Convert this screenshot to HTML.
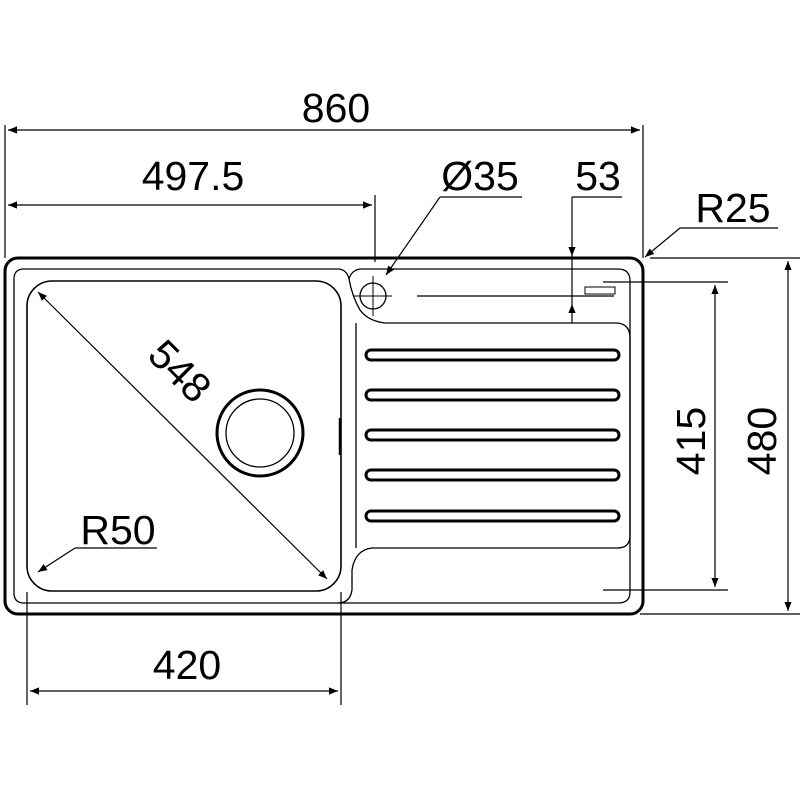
<!DOCTYPE html>
<html><head><style>body{margin:0;background:#fff}svg{display:block}</style></head><body>
<svg width="800" height="800" viewBox="0 0 800 800" xmlns="http://www.w3.org/2000/svg" font-family="Liberation Sans, sans-serif">
<defs>
<marker id="a" viewBox="0 0 10 10" refX="10" refY="5" markerWidth="18" markerHeight="9" markerUnits="userSpaceOnUse" orient="auto-start-reverse"><path d="M0,1 L10,5 L0,9 z" fill="#000"/></marker>
</defs>
<g fill="none" stroke="#000">
<rect x="5" y="258" width="638" height="356" rx="13" stroke-width="3"/>
<path d="M24,269 H339 Q347,270 349,279 Q352,296 360,310 Q368,321 385,323 H617 Q630,324 630,338 V536 Q630,548 617,548 H372 Q355,550 352,570 V590 Q350,603 338,603 H24 Q14,603 14,593 V279 Q14,269 24,269 Z" stroke-width="1.3"/>
<path d="M349,279 Q352,269 362,269 H618 Q630,269 630,281 V592 Q630,603 618,603 H338" stroke-width="1.3"/>
<line x1="356" y1="323" x2="356" y2="548" stroke-width="1.3"/>
<rect x="27" y="281" width="314" height="310" rx="25" stroke-width="1.6"/>
<line x1="340" y1="418" x2="340" y2="455" stroke-width="2.5"/>
<circle cx="260" cy="433" r="43" stroke-width="3"/>
<circle cx="260" cy="433" r="34" stroke-width="1.3"/>
<circle cx="373" cy="296" r="13" stroke-width="1.3"/>
<line x1="354" y1="296" x2="392" y2="296" stroke-width="1"/>
<line x1="373" y1="276" x2="373" y2="316" stroke-width="1"/>
<g stroke-width="3">
<rect x="366" y="350" width="253" height="10" rx="5"/>
<rect x="366" y="390" width="253" height="10" rx="5"/>
<rect x="366" y="430" width="253" height="10" rx="5"/>
<rect x="366" y="470" width="253" height="10" rx="5"/>
<rect x="366" y="511" width="253" height="10" rx="5"/>
</g>
<line x1="417" y1="296" x2="614" y2="296" stroke-width="1.2"/>
<rect x="585" y="287" width="30" height="7" stroke-width="1"/>
<g stroke-width="1.2">
<line x1="5" y1="125" x2="5" y2="258"/>
<line x1="643" y1="125" x2="643" y2="258"/>
<line x1="8" y1="130" x2="640" y2="130" marker-start="url(#a)" marker-end="url(#a)"/>
<line x1="375" y1="195" x2="375" y2="262"/>
<line x1="8" y1="205" x2="372" y2="205" marker-start="url(#a)" marker-end="url(#a)"/>
<polyline points="522,197 440,197"/>
<line x1="440" y1="197" x2="386" y2="275" marker-end="url(#a)"/>
<polyline points="622,197 572,197"/>
<line x1="572" y1="197" x2="572" y2="256" marker-end="url(#a)"/>
<line x1="572" y1="256" x2="572" y2="304"/>
<line x1="572" y1="323" x2="572" y2="304" marker-end="url(#a)"/>
<polyline points="778,228 680,228"/>
<line x1="680" y1="228" x2="645" y2="257" marker-end="url(#a)"/>
<line x1="650" y1="258" x2="800" y2="258"/>
<line x1="640" y1="614" x2="800" y2="614"/>
<line x1="788" y1="261" x2="788" y2="611" marker-start="url(#a)" marker-end="url(#a)"/>
<line x1="603" y1="282" x2="728" y2="282"/>
<line x1="603" y1="590" x2="728" y2="590"/>
<line x1="715" y1="285" x2="715" y2="587" marker-start="url(#a)" marker-end="url(#a)"/>
<line x1="38" y1="292" x2="327" y2="579" marker-start="url(#a)" marker-end="url(#a)"/>
<polyline points="157,548 75,548"/>
<line x1="75" y1="548" x2="38" y2="572" marker-end="url(#a)"/>
<line x1="27" y1="592" x2="27" y2="705"/>
<line x1="341" y1="592" x2="341" y2="705"/>
<line x1="30" y1="691" x2="338" y2="691" marker-start="url(#a)" marker-end="url(#a)"/>
</g>
</g>
<g font-size="41" fill="#000" text-anchor="middle">
<text x="336" y="122">860</text>
<text x="193" y="190">497.5</text>
<text x="480" y="190">Ø35</text>
<text x="598" y="190">53</text>
<text x="733" y="222">R25</text>
<text x="118" y="544">R50</text>
<text x="187" y="679">420</text>
<text transform="translate(705,441) rotate(-90)">415</text>
<text transform="translate(776,441) rotate(-90)">480</text>
<text transform="translate(170,381) rotate(45)">548</text>
</g>
</svg>
</body></html>
